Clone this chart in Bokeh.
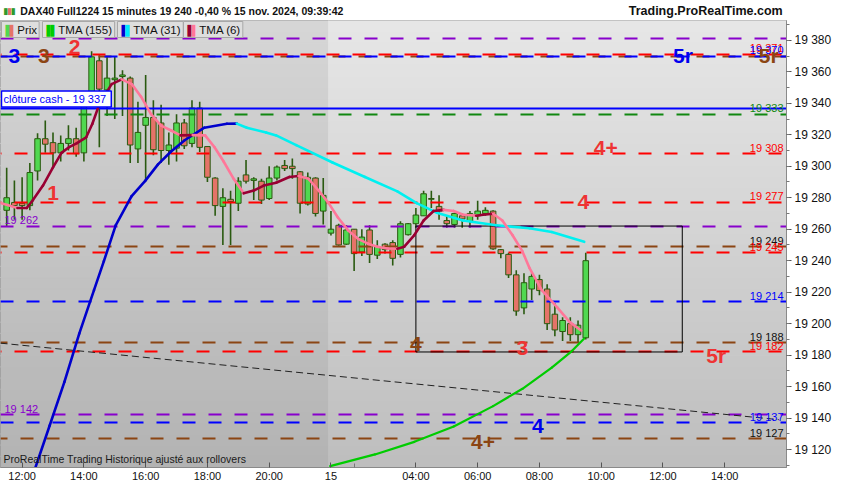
import numpy as np
from bokeh.plotting import figure
from bokeh.layouts import column
from bokeh.models import Range1d, FixedTicker, Label, ColumnDataSource
from bokeh.core.properties import value
from bokeh.embed import file_html
from bokeh.resources import INLINE

# ---------------- data ----------------
bar_index = list(range(-2, 74))   # 15-minute bars, 0 = 14 nov 12:00, 40 = 15 nov first bar
opens = [19272, 19277, 19276.5, 19275, 19297, 19317.5, 19315, 19308.5, 19314.5, 19317.5,
         19308.5, 19347.5, 19367, 19348.5, 19355, 19357, 19356, 19311, 19326, 19331,
         19327.5, 19310, 19311.5, 19327.5, 19314.5, 19337, 19312.5, 19292.5, 19274.5, 19279,
         19276.5, 19294.5, 19291, 19290.5, 19279.5, 19292.5, 19300.5, 19300, 19296.5, 19276,
         19292.5, 19271.5, 19257.5, 19262.5, 19250.5, 19260, 19245.5, 19259.5, 19243.5, 19250.5,
         19251.5, 19244, 19256.5, 19263.5, 19268.5, 19279, 19274.5, 19265.5, 19263, 19268.5,
         19265, 19268.5, 19270, 19271.5, 19247, 19244, 19231, 19210, 19222, 19228,
         19222, 19206, 19195, 19200, 19193, 19191]
highs = [19299, 19291, 19293, 19302, 19321, 19329, 19321.5, 19319.5, 19326, 19324.5,
         19344, 19373, 19370.5, 19370, 19370, 19361, 19357, 19341, 19358, 19342,
         19339, 19321.5, 19333, 19330, 19342, 19341, 19312.5, 19293, 19286, 19284.5,
         19293, 19304, 19293, 19292, 19300, 19300.5, 19304, 19305, 19297, 19296,
         19293, 19292.5, 19271.5, 19263.5, 19262.5, 19260, 19260, 19262.5, 19253, 19251,
         19253, 19265, 19264, 19273.5, 19284.5, 19284.5, 19281.5, 19268.5, 19270.5, 19270,
         19271.5, 19278, 19274, 19272, 19247.5, 19245, 19234, 19232, 19232, 19231,
         19225, 19213, 19204, 19204, 19202, 19245]
lows = [19262, 19266, 19266, 19272, 19291, 19308.5, 19299, 19303, 19310, 19306,
        19303, 19347, 19312, 19332, 19330, 19332, 19302, 19302, 19291, 19307,
        19302, 19301, 19303, 19311, 19312, 19309, 19290, 19268.5, 19250, 19250,
        19271.5, 19289, 19278.5, 19276, 19278.5, 19291, 19297, 19292, 19270, 19275,
        19268, 19263, 19256, 19249.5, 19250, 19233.5, 19243, 19238.5, 19241, 19244.5,
        19237, 19242, 19256, 19261, 19268.5, 19273.5, 19266, 19261, 19261, 19261,
        19261, 19266, 19268.5, 19247, 19241.5, 19229, 19205, 19206, 19215, 19218,
        19196, 19192, 19189, 19189, 19188, 19190]
closes = [19280, 19275, 19275, 19296, 19317.5, 19314, 19308.5, 19314.5, 19317.5, 19308,
          19340, 19369.5, 19349, 19356, 19356, 19358, 19313.5, 19321.5, 19331, 19310.5,
          19310, 19313.5, 19327.5, 19313, 19337, 19312, 19293, 19275, 19280, 19277.5,
          19290.5, 19290.5, 19292, 19278.5, 19292.5, 19299.5, 19298.5, 19298.5, 19276.5, 19293,
          19270, 19281.5, 19260, 19250, 19259.5, 19244.5, 19255, 19244, 19249, 19247,
          19241.5, 19263.5, 19263.5, 19269, 19282.5, 19279.5, 19271.5, 19263.5, 19270, 19266.5,
          19270, 19271.5, 19272, 19247.5, 19244.5, 19231, 19208, 19226, 19230, 19221,
          19200, 19196, 19202, 19193, 19199, 19240]

tma6_idx = [-2.8, -1.9, -0.6, 0.6, 1.4, 2.7, 4.0, 5.1, 6.1, 7.1,
            8.3, 9.1, 9.9, 10.8, 11.6, 12.9, 14.2, 15.4, 16.7, 18.0,
            19.3, 20.5, 22.1, 23.7, 24.9, 26.1, 27.4, 28.7, 30.0, 31.3,
            32.9, 34.6, 35.8, 37.1, 38.4, 39.7, 40.9, 42.2, 43.5, 44.8,
            46.0, 47.3, 48.6, 49.5, 50.8, 52.0, 53.3, 54.6, 55.9, 57.1,
            58.8, 59.7, 61.0, 62.2, 63.5, 64.8, 65.7, 67.3, 69.3, 70.9, 72.4]
tma6_val = [19276.6, 19275.4, 19273.5, 19273.5, 19278.5, 19287.7, 19299.3, 19308.5, 19312.2, 19314.7,
            19318.4, 19327, 19338, 19346, 19352.2, 19355.2, 19352.2, 19344.2, 19333.1, 19325.8,
            19322.7, 19319.6, 19319.8, 19319.6, 19312.2, 19303, 19292, 19282.8, 19284.6, 19287.7,
            19289.5, 19293.2, 19293.8, 19292, 19284.6, 19276.6, 19267.4, 19259.4, 19253.9, 19250.8,
            19248.9, 19247.7, 19247.6, 19248.9, 19256.3, 19265.5, 19271.6, 19272.3, 19271.6, 19269.2,
            19268.6, 19269.2, 19269.8, 19265.5, 19256.3, 19245.9, 19235.5, 19221.3, 19210.3, 19201.1, 19195.6]

tma31_idx = [1.66, 3.57, 5.48, 7.40, 9.31, 10.59, 12.12, 14.16, 15.94, 17.6,
             19.26, 21.05, 23.6, 26.53, 27.8, 29.1, 31.6, 32.9, 35.5, 40.2,
             44.4, 48.6, 51.1, 53.7, 57.1, 61.4, 65.7, 68.6, 72.8]
tma31_val = [19107.7, 19135.3, 19163, 19193.7, 19221.3, 19239.7, 19262.4, 19280.8, 19290.7, 19301.2,
             19309.2, 19316.5, 19324.5, 19327, 19327.1, 19324.5, 19321.4, 19319.6, 19313.4, 19302.4,
             19293.2, 19284, 19276.6, 19270.5, 19265.5, 19262.5, 19260.6, 19258.2, 19252]

tma155_idx = [39.9, 45.7, 50.8, 55.9, 61.0, 64.8, 68.6, 71.2, 72.8]
tma155_val = [19109.5, 19116.9, 19124.9, 19134.7, 19147.6, 19158.6, 19172.1, 19182.6, 19190.6]

level_values = [19381, 19371, 19370, 19370, 19333, 19308, 19277, 19262, 19249, 19245,
                19214, 19188, 19182, 19142, 19137, 19127]
level_kinds = ["purple", "red", "blue", "brown", "green", "red", "red", "purple", "brown", "red",
               "blue", "brown", "red", "purple", "blue", "brown"]

right_label_values = [19371, 19370, 19333, 19308, 19277, 19249, 19245, 19214, 19188, 19182, 19137, 19127]
right_label_texts = ["19 371", "19 370", "19 333", "19 308", "19 277", "19 249", "19 245", "19 214",
                     "19 188", "19 182", "19 137", "19 127"]
right_label_kinds = ["red", "blue", "green", "red", "red", "black", "red", "blue", "black", "red", "blue", "black"]
left_label_values = [19262, 19142]
left_label_texts = ["19 262", "19 142"]

tag_texts = ["3", "3", "2", "1", "4+", "4", "4", "3", "5r", "4", "4+", "5r", "5r"]
tag_idx = [-1.0, 2.8, 6.8, 4.0, 75.6, 72.7, 51.0, 64.8, 89.9, 66.8, 59.7, 85.6, 96.7]
tag_values = [19370, 19370, 19376, 19283, 19311.5, 19277, 19187, 19184.5, 19180, 19134.7, 19125, 19370.6, 19370.6]
tag_kinds = ["blue", "brown", "red", "red", "red", "red", "brown", "red", "red", "blue", "brown", "blue", "brown"]

cash_close = 19337
box_idx = [51, 85.5]
box_levels = [19182, 19262]
trend_idx = [-2.8, 98]
trend_val = [19187.6, 19139]

session_split = 39.7
time_tick_idx = [0, 8, 16, 24, 32, 40, 51, 59, 67, 75, 83, 91]
time_tick_labels = ["12:00", "14:00", "16:00", "18:00", "20:00", "15", "04:00", "06:00",
                    "08:00", "10:00", "12:00", "14:00"]
price_ticks = list(range(19120, 19381, 20))

title_text = "DAX40 Full1224 15 minutes 19 240 -0,40 % 15 nov. 2024, 09:39:42"
site_text = "Trading.ProRealTime.com"

# ---------------- style ----------------
FONT = "Liberation Sans"
PAL = {"red": "#ff0000", "blue": "#0000ff", "brown": "#8b4513", "green": "#118811",
       "purple": "#8800cc", "black": "#111111"}
TAG_PAL = {"red": "#ee3333", "blue": "#0000ee", "brown": "#8b4513"}
DASH_OFF = {"red": 12, "blue": 0, "brown": 6, "green": 0, "purple": 0}
UP_FILL, DN_FILL, EDGE = "#50d850", "#e57368", "#2a5a10"

W, H_HEAD, H_MAIN = 834, 20, 464
x_lo, x_hi = -2.8, 99.0
y_lo, y_hi = 19108.6, 19392.6


def mix(c1, c2, t):
    a = [int(c1[i:i + 2], 16) for i in (1, 3, 5)]
    b = [int(c2[i:i + 2], 16) for i in (1, 3, 5)]
    return "#" + "".join(f"{int(round(a[k] + (b[k] - a[k]) * t)):02x}" for k in range(3))


def fmt(v):
    return f"{v // 1000} {v % 1000:03d}"


# ---------------- header strip ----------------
head = figure(width=W, height=H_HEAD, x_range=Range1d(0, W), y_range=Range1d(0, H_HEAD),
              x_axis_location=None, y_axis_location=None, output_backend="svg",
              toolbar_location=None, min_border=0)
head.grid.visible = False
head.outline_line_color = None
head.background_fill_color = "white"
head.border_fill_color = "white"
head.add_layout(Label(x=21, y=H_HEAD / 2, text=title_text, text_baseline="middle", text_font=FONT,
                      text_font_size="10.5px", text_font_style="bold", text_color="#111111"))
head.add_layout(Label(x=W - 4, y=H_HEAD / 2, text=site_text, text_align="right", text_baseline="middle",
                      text_font=FONT, text_font_size="12.5px", text_font_style="bold", text_color="#111111"))
for dx, c in [(3, "#2f9a2f"), (7, "#e57368"), (11, "#2f9a2f")]:
    head.add_layout(Label(x=dx, y=H_HEAD / 2, text="▮", text_baseline="middle",
                          text_font="DejaVu Sans", text_font_size="9px", text_color=c))

# ---------------- main chart ----------------
p = figure(width=W, height=H_MAIN, x_range=Range1d(x_lo, x_hi), y_range=Range1d(y_lo, y_hi),
           y_axis_location="right", output_backend="svg", toolbar_location=None,
           min_border_left=0, min_border_top=0, min_border_bottom=0, min_border_right=0)
p.xgrid.visible = False
p.ygrid.visible = False
p.background_fill_color = "#d4d4d4"
p.border_fill_color = "white"
p.outline_line_color = "#8a8a8a"

n = 40
edges = np.linspace(y_lo, y_hi, n + 1)
for left, right, ctop, cbot in [(x_lo - 5, session_split, "#d6d6d6", "#b3b3b3"),
                                (session_split, x_hi + 5, "#e7e7e7", "#bdbdbd")]:
    cols = [mix(cbot, ctop, (i + 0.5) / n) for i in range(n)]
    p.quad(left=[left] * n, right=[right] * n, bottom=edges[:-1], top=edges[1:],
           fill_color=cols, line_color=cols, line_width=1)

src = ColumnDataSource(dict(
    x=bar_index, o=opens, h=highs, l=lows, c=closes,
    top=[max(a, b) for a, b in zip(opens, closes)],
    bot=[min(a, b) for a, b in zip(opens, closes)],
    col=[UP_FILL if c >= o else DN_FILL for o, c in zip(opens, closes)]))
p.segment(x0="x", y0="h", x1="x", y1="l", source=src, line_color=EDGE, line_width=1.6)
p.vbar(x="x", width=0.72, top="top", bottom="bot", source=src, fill_color="col",
       line_color=EDGE, line_width=1)

for kind in ["purple", "brown", "blue", "green", "red"]:
    ys = [v for v, k in zip(level_values, level_kinds) if k == kind]
    p.hspan(y=ys, line_color=PAL[kind], line_width=2, line_dash="13 13",
            line_dash_offset=DASH_OFF[kind])
p.hspan(y=[cash_close], line_color="#0000ff", line_width=2.2)

p.quad(left=[box_idx[0]], right=[box_idx[1]], bottom=[box_levels[0]], top=[box_levels[1]],
       fill_alpha=0, line_color="black", line_width=1)
p.line(trend_idx, trend_val, line_color="#222222", line_width=1, line_dash="7 4")


def tma(idx, val, up, dn, w):
    cols = [up if val[i + 1] >= val[i] else dn for i in range(len(val) - 1)]
    p.segment(x0=idx[:-1], y0=val[:-1], x1=idx[1:], y1=val[1:], line_color=cols,
              line_width=w, line_cap="round")


tma(tma155_idx, tma155_val, "#00cc00", "#00cc00", 2.2)
tma(tma31_idx, tma31_val, "#0000cc", "#00f0f0", 2.6)
tma(tma6_idx, tma6_val, "#990033", "#ff7799", 2.6)

p.text(x=[x_hi] * len(right_label_values), y=right_label_values, text=right_label_texts,
       text_color=[PAL[k] for k in right_label_kinds], text_font=value(FONT),
       text_font_size="11px", text_align="right", text_baseline="bottom", x_offset=-3)
p.text(x=[x_lo] * len(left_label_values), y=left_label_values, text=left_label_texts,
       text_color=PAL["purple"], text_font=value(FONT), text_font_size="11px",
       text_align="left", text_baseline="bottom", x_offset=4)
p.text(x=tag_idx, y=tag_values, text=tag_texts, text_color=[TAG_PAL[k] for k in tag_kinds],
       text_font=value(FONT), text_font_style="bold", text_font_size="21px",
       text_align="center", text_baseline="middle")

# axes
p.yaxis.ticker = FixedTicker(ticks=price_ticks, minor_ticks=list(range(19110, 19391, 10)))
p.yaxis.major_label_overrides = {v: fmt(v) for v in price_ticks}
p.xaxis.ticker = FixedTicker(ticks=time_tick_idx, minor_ticks=[43])
p.xaxis.major_label_overrides = {t: lab for t, lab in zip(time_tick_idx, time_tick_labels)}
for ax in (p.xaxis[0], p.yaxis[0]):
    ax.major_label_text_font = FONT
    ax.major_label_text_color = "#111111"
    ax.axis_line_color = "#8a8a8a"
    ax.major_tick_line_color = "#555555"
    ax.minor_tick_line_color = "#777777"
p.yaxis.major_label_text_font_size = "12px"
p.xaxis.major_label_text_font_size = "11px"
p.yaxis.major_tick_out = 5
p.yaxis.major_tick_in = 0
p.yaxis.minor_tick_out = 3
p.yaxis.minor_tick_in = 0
p.yaxis.major_label_standoff = 3
p.xaxis.major_tick_out = 0
p.xaxis.major_tick_in = 5
p.xaxis.minor_tick_out = 0
p.xaxis.minor_tick_in = 4
p.xaxis.major_label_standoff = 2

p.add_layout(Label(x=x_lo, y=cash_close, x_offset=1, y_offset=1, text="clôture cash -  " + fmt(cash_close),
                   text_baseline="bottom", text_font=FONT, text_font_size="11px", text_color="#0000ff",
                   background_fill_color="white", border_line_color="#0000ff", border_line_width=1.5,
                   padding=2))

legend_items = [("Prix", "#50d850", "#e57368", 0), ("TMA (155)", "#00cc00", "#00cc00", 41),
                ("TMA (31)", "#0000cc", "#00e8ff", 116), ("TMA (6)", "#990033", "#ff7799", 182)]
for txt, c1, c2, off in legend_items:
    p.add_layout(Label(x=x_lo, y=y_hi, x_offset=off + 1, y_offset=-1, text="\u2002\u2002\u2009" + txt,
                       text_baseline="top", text_font=FONT, text_font_size="11.5px", text_color="#111111",
                       background_fill_color="#dedede", border_line_color="#a8a8a8", padding=2))
    p.add_layout(Label(x=x_lo, y=y_hi, x_offset=off + 5, y_offset=-4, text="▌", text_baseline="top",
                       text_font="DejaVu Sans", text_font_size="10px", text_color=c1))
    p.add_layout(Label(x=x_lo, y=y_hi, x_offset=off + 5, y_offset=-4, text="▐", text_baseline="top",
                       text_font="DejaVu Sans", text_font_size="10px", text_color=c2))

p.add_layout(Label(x=x_lo, y=y_lo, x_offset=3, y_offset=3, text="ProRealTime Trading  Historique ajusté aux rollovers",
                   text_baseline="bottom", text_font=FONT, text_font_size="10.5px", text_color="#1a1a1a"))

layout = column(head, p, spacing=0)
open("out.html", "w").write(file_html(layout, INLINE))
